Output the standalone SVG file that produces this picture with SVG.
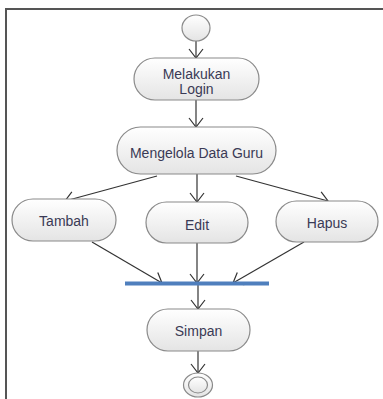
<svg xmlns="http://www.w3.org/2000/svg" width="383" height="399" viewBox="0 0 383 399">
<defs>
<linearGradient id="g" x1="0" y1="0" x2="0" y2="1">
<stop offset="0" stop-color="#ffffff"/>
<stop offset="1" stop-color="#e4e4e4"/>
</linearGradient>
<marker id="a" markerWidth="12" markerHeight="16" refX="10" refY="8" orient="auto" markerUnits="userSpaceOnUse">
<path d="M1,1 L10,8 L1,15" fill="none" stroke="#333" stroke-width="1.2"/>
</marker>
<style>
.n{fill:url(#g);stroke:#8a8a8a;stroke-width:1.2}
.t{font-family:"Liberation Sans",Arial,sans-serif;font-size:14px;fill:#3a3a55;text-anchor:middle;dominant-baseline:central}
.e{fill:none;stroke:#333;stroke-width:1.2;marker-end:url(#a)}
</style>
</defs>
<rect width="383" height="399" fill="#fff"/>
<path d="M6,399 L6,9 L383,9" fill="none" stroke="#555" stroke-width="2"/>
<g id="edges">
<line class="e" x1="196" y1="41" x2="196" y2="58"/>
<line class="e" x1="196" y1="100" x2="196" y2="127"/>
<line class="e" x1="157" y1="176" x2="65" y2="201"/>
<line class="e" x1="197" y1="174" x2="197" y2="202"/>
<line class="e" x1="236" y1="176" x2="328" y2="201"/>
<line class="e" x1="92" y1="242" x2="162" y2="283"/>
<line class="e" x1="197" y1="243" x2="197" y2="283"/>
<line class="e" x1="304" y1="242" x2="233" y2="283"/>
<line class="e" x1="198" y1="285" x2="198" y2="309"/>
<line class="e" x1="198" y1="351" x2="198" y2="373"/>
</g>
<g id="start"><ellipse cx="196" cy="28" rx="14" ry="13" class="n"/></g>
<g id="login"><rect x="134" y="58" width="125" height="42" rx="21" class="n"/><text class="t" x="196.5" y="74">Melakukan</text><text class="t" x="196.5" y="89">Login</text></g>
<g id="kelola"><rect x="117" y="127" width="159" height="47" rx="23.5" class="n"/><text class="t" x="196.5" y="153">Mengelola Data Guru</text></g>
<g id="tambah"><rect x="12" y="199" width="104" height="42" rx="21" class="n"/><text class="t" x="64" y="221">Tambah</text></g>
<g id="edit"><rect x="146" y="202" width="102" height="41" rx="20.5" class="n"/><text class="t" x="197" y="225">Edit</text></g>
<g id="hapus"><rect x="276" y="201" width="102" height="41" rx="20.5" class="n"/><text class="t" x="327" y="223">Hapus</text></g>
<g id="join"><rect x="125" y="281.5" width="144" height="4" fill="#4f7fbd"/></g>
<g id="simpan"><rect x="147" y="309" width="103" height="42" rx="21" class="n"/><text class="t" x="198.5" y="331">Simpan</text></g>
<g id="end"><ellipse cx="198" cy="385" rx="14.5" ry="12" class="n"/><ellipse cx="198" cy="385" rx="9.5" ry="8" class="n"/></g>
</svg>
